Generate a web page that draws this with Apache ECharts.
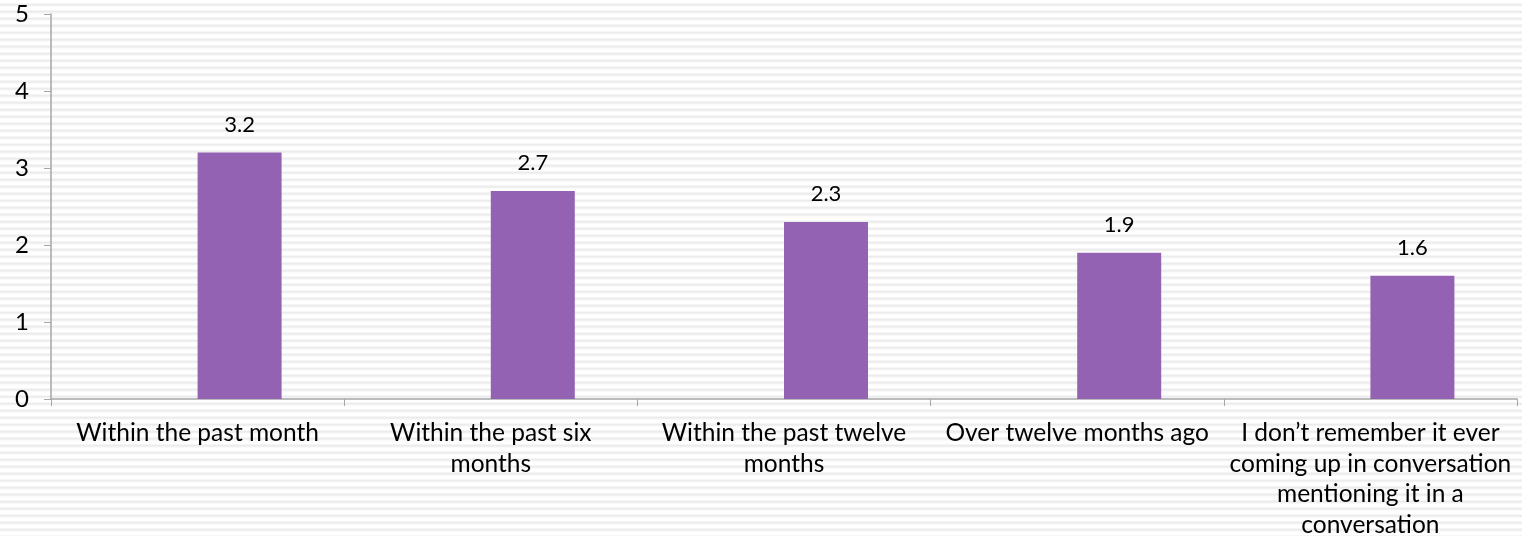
<!DOCTYPE html>
<html>
<head>
<meta charset="utf-8">
<script src="https://cdn.jsdelivr.net/npm/echarts@6/dist/echarts.min.js"></script>
<style>
html,body{margin:0;padding:0;}
body{width:1522px;height:536px;background:repeating-linear-gradient(to bottom,#ffffff 0px,#ffffff 3px,#ececec 4px,#ececec 5px,#ffffff 7px);}
#c{width:1522px;height:536px;}
</style>
</head>
<body>
<div id="c"></div>
<script>
const categories = [
  "Within the past month",
  "Within the past six\nmonths",
  "Within the past twelve\nmonths",
  "Over twelve months ago",
  "I don\u2019t remember it ever\ncoming up in conversation\nmentioning it in a\nconversation"
];
const values = [3.2, 2.7, 2.3, 1.9, 1.6];
const emptySeries = [null, null, null, null, null];
const yTicks = [0, 1, 2, 3, 4, 5];

const FONT = "Lato, 'DejaVu Sans', sans-serif";
const chart = echarts.init(document.getElementById('c'), null, {renderer: 'canvas'});
chart.setOption({
  backgroundColor: 'transparent',
  animation: false,
  grid: {left: 51, right: 5, top: 14, bottom: 137, containLabel: false, outerBoundsMode: 'none'},
  xAxis: {
    type: 'category',
    data: categories,
    axisLine: {lineStyle: {color: '#a6a6a6', width: 1.5}},
    axisTick: {show: true, length: 7, lineStyle: {color: '#a6a6a6'}},
    axisLabel: {color: '#000', fontFamily: FONT, fontSize: 24.5, lineHeight: 30.5, margin: 19, interval: 0}
  },
  yAxis: {
    type: 'value',
    min: yTicks[0],
    max: yTicks[yTicks.length - 1],
    interval: 1,
    splitLine: {show: false},
    axisLine: {show: true, lineStyle: {color: '#a6a6a6', width: 1.5}},
    axisTick: {show: true, length: 7, lineStyle: {color: '#a6a6a6'}},
    axisLabel: {color: '#000', fontFamily: FONT, fontSize: 24, margin: 22}
  },
  series: [
    {type: 'bar', data: emptySeries, barWidth: 84, barGap: '0%'},
    {
      type: 'bar', data: values, barWidth: 84, barGap: '0%',
      itemStyle: {color: '#9362b2'},
      label: {show: true, position: 'top', distance: 17, color: '#000', fontFamily: FONT, fontSize: 22,
        formatter: p => p.value.toFixed(1)}
    }
  ]
});
</script>
</body>
</html>
